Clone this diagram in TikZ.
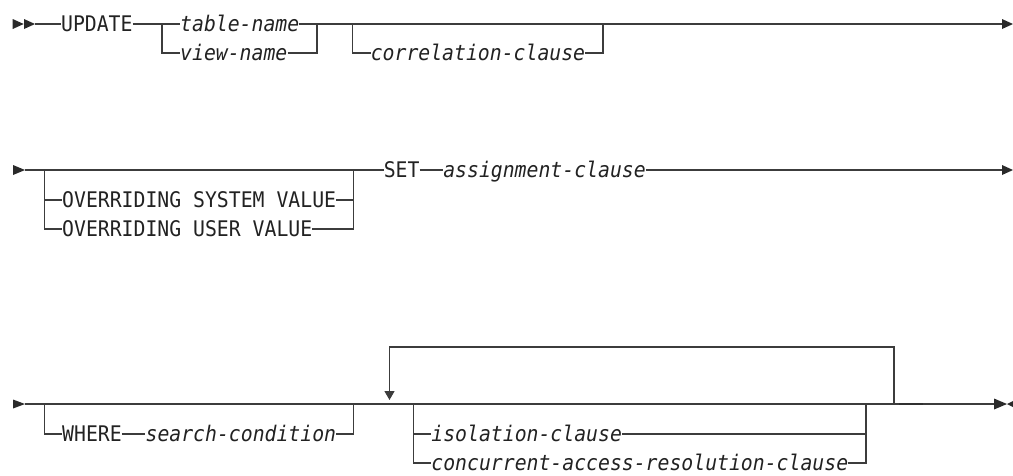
\documentclass[tikz,border=0pt]{standalone}
\usepackage{fontspec}
\setmonofont{DejaVu Sans Mono}[FakeStretch=0.92]
\usetikzlibrary{arrows.meta}
\definecolor{linec}{HTML}{3C3C3C}
\definecolor{textc}{HTML}{222222}
\begin{document}
\begin{tikzpicture}[x=1pt,y=-1pt,
  rr/.style={draw=linec, line width=1.2pt},
  thick dash/.style={draw=linec!80!black, line width=2.6pt},
  tip/.style={fill=linec!70!black, draw=none},
  kw/.style={inner sep=0pt, anchor=west, text height=15pt, text depth=0pt,
    text=textc, font=\fontsize{21.5}{22}\selectfont\ttfamily},
  var/.style={kw, font=\fontsize{21.5}{22}\selectfont\ttfamily\itshape},
  downarrow/.style={-{Triangle[length=9pt,width=10pt]}}]
\useasboundingbox (0,0) rectangle (1013,475);
\fill[white] (0,0) rectangle (1013,475);

% ---------------- Row 1 ----------------
\fill[tip] (12.7,19) -- (23.7,24) -- (12.7,29) -- cycle;
\fill[tip] (24,19) -- (35,24) -- (24,29) -- cycle;
\coordinate (r1s) at (35,24);
\node[kw]  (upd)  at (60.9,24) {UPDATE};
\node[var] (tbl)  at (180,24)  {table-name};
\node[var] (vw)   at (180,53)  {view-name};
\node[var] (corr) at (370.6,53) {correlation-clause};
\coordinate (j1)  at (162,24);
\coordinate (j1b) at (162,53);
\coordinate (j2)  at (317,24);
\coordinate (j2b) at (317,53);
\coordinate (j3)  at (352.7,24);
\coordinate (j3b) at (352.7,53);
\coordinate (j4)  at (602.9,24);
\coordinate (j4b) at (602.9,53);
\coordinate (r1e) at (1002,24);
\draw[rr] (r1s) -- (upd.west);
\draw[rr] (upd.east) -- (tbl.west);
\draw[rr] (tbl.east) -- (j2) -- (r1e);
\draw[rr] (j1) -- (j1b) -- (vw.west);
\draw[rr] (vw.east) -- (j2b) -- (j2);
\draw[rr] (j3) -- (j3b) -- (corr.west);
\draw[rr] (corr.east) -- (j4b) -- (j4);
\fill[tip] (1002,19) -- (1013,24) -- (1002,29) -- cycle;

% ---------------- Row 2 ----------------
\fill[tip] (13,165) -- (25,170) -- (13,175) -- cycle;
\coordinate (r2s) at (25,170);
\node[kw]  (osv) at (62,200)    {OVERRIDING SYSTEM VALUE};
\node[kw]  (ouv) at (62,229)    {OVERRIDING USER VALUE};
\node[kw]  (set) at (383.6,170) {SET};
\node[var] (asg) at (443.1,170) {assignment-clause};
\coordinate (k1)  at (44.15,170);
\coordinate (k1m) at (44.15,200);
\coordinate (k1b) at (44.15,229);
\coordinate (k2)  at (353.5,170);
\coordinate (k2m) at (353.5,200);
\coordinate (k2b) at (353.5,229);
\coordinate (r2e) at (1002,170);
\draw[rr] (r2s) -- (set.west);
\draw[rr] (k1) -- (k1b) -- (ouv.west);
\draw[rr] (k1m) -- (osv.west);
\draw[rr] (osv.east) -- (k2m);
\draw[rr] (ouv.east) -- (k2b) -- (k2);
\draw[rr] (set.east) -- (asg.west);
\draw[rr] (asg.east) -- (r2e);
\fill[tip] (1002,165) -- (1013,170) -- (1002,175) -- cycle;

% ---------------- Row 3 ----------------
\fill[tip] (13,399.5) -- (25,404) -- (13,408.5) -- cycle;
\coordinate (r3s) at (25,404);
\node[kw]  (whr) at (62,434)    {WHERE};
\node[var] (src) at (145.4,434) {search-condition};
\node[var] (iso) at (431.2,434) {isolation-clause};
\node[var] (car) at (431.2,463) {concurrent-access-resolution-clause};
\coordinate (m1)  at (44.15,404);
\coordinate (m1b) at (44.15,434);
\coordinate (m2)  at (353.5,404);
\coordinate (m2b) at (353.5,434);
\coordinate (c1)  at (413.3,404);
\coordinate (c1m) at (413.3,434);
\coordinate (c1b) at (413.3,463);
\coordinate (c2)  at (865.9,404);
\coordinate (c2m) at (865.9,434);
\coordinate (c2b) at (865.9,463);
\coordinate (lpr)  at (894,404);
\coordinate (lprt) at (894,347);
\coordinate (lplt) at (389.5,347);
\coordinate (lpl)  at (389.5,400);
\coordinate (td1) at (899,404);
\coordinate (td2) at (923,404);
\coordinate (r3e) at (995,404);
\draw[rr] (r3s) -- (r3e);
\draw[rr] (m1) -- (m1b) -- (whr.west);
\draw[rr] (whr.east) -- (src.west);
\draw[rr] (src.east) -- (m2b) -- (m2);
\draw[rr, downarrow] (lpr) -- (lprt) -- (lplt) -- (lpl);
\draw[rr] (c1) -- (c1b) -- (car.west);
\draw[rr] (c1m) -- (iso.west);
\draw[rr] (iso.east) -- (c2m);
\draw[rr] (car.east) -- (c2b) -- (c2);
\draw[thick dash] (td1) -- (td2);
\fill[tip] (994,398.5) -- (1007,404) -- (994,409.5) -- cycle;
\fill[tip] (1018,398.5) -- (1007,404) -- (1018,409.5) -- cycle;
\end{tikzpicture}
\end{document}
